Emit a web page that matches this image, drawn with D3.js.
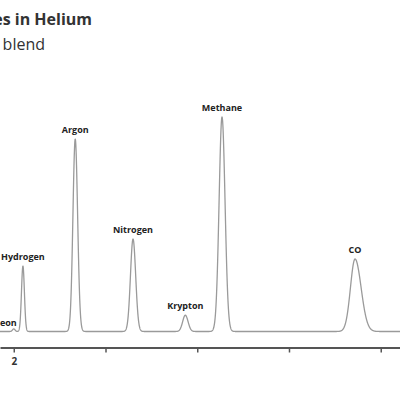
<!DOCTYPE html>
<html>
<head>
<meta charset="utf-8">
<script src="https://cdn.jsdelivr.net/npm/d3@7"></script>
<style>
  html, body { margin: 0; padding: 0; background: #fff; }
  svg { display: block; }
</style>
</head>
<body>
<script>
// Chromatogram: permanent and noble gases in helium carrier.
const peakNames   = ["Neon", "Hydrogen", "Argon", "Nitrogen", "Krypton", "Methane", "CO"];
const retention   = [2.00, 2.10, 2.67, 3.30, 3.87, 4.27, 5.72];   // minutes
const peakHeight  = [1.2, 30.5, 89.7, 43.1, 7.6, 100, 33.8];      // relative response
const widthFront  = [0.014, 0.016, 0.025, 0.028, 0.029, 0.032, 0.050]; // sigma, leading side (min)
const widthTail   = [0.014, 0.016, 0.026, 0.029, 0.030, 0.033, 0.066]; // sigma, trailing side (min)
const tickValues  = [2, 3, 4, 5, 6];
const tickLabels  = ["2", "", "", "", ""];

const W = 400, H = 400;
const svg = d3.select("body").append("svg").attr("width", W).attr("height", H);

const x = d3.scaleLinear().domain([1.85, 6.21]).range([0, W]);
const y = d3.scaleLinear().domain([0, 100]).range([331.5, 117]);

// Detector signal as the sum of the (slightly asymmetric) peaks
function signal(t) {
  let s = 0;
  for (let i = 0; i < retention.length; i++) {
    const d = t - retention[i];
    const sg = d < 0 ? widthFront[i] : widthTail[i];
    s += peakHeight[i] * Math.exp(-0.5 * (d / sg) * (d / sg));
  }
  return s;
}
const times = d3.range(x.domain()[0], x.domain()[1] + 0.001, 0.001);
const trace = times.map(t => ({ t, v: signal(t) }));

svg.append("path")
  .datum(trace)
  .attr("fill", "none")
  .attr("stroke", "#9a9a9a")
  .attr("stroke-width", 1.3)
  .attr("stroke-linejoin", "round")
  .attr("d", d3.line().x(d => x(d.t)).y(d => y(d.v)));

// Peak labels
const labels = svg.append("g")
  .attr("font-family", "'Open Sans', sans-serif")
  .attr("font-weight", "bold")
  .attr("font-size", 9)
  .attr("fill", "#222");
peakNames.forEach((name, i) => {
  const small = peakHeight[i] < 3;
  labels.append("text")
    .attr("x", small ? x(retention[i]) + 3 : x(retention[i]))
    .attr("y", small ? y(peakHeight[i]) - 3 : y(peakHeight[i]) - 6)
    .attr("text-anchor", small ? "end" : "middle")
    .text(name);
});

// Time axis
const axis = svg.append("g")
  .attr("transform", "translate(0,347.5)")
  .call(d3.axisBottom(x)
    .tickValues(tickValues)
    .tickFormat((d, i) => tickLabels[i])
    .tickSize(5)
    .tickSizeOuter(0));
axis.select(".domain").attr("stroke", "#555").attr("stroke-width", 2);
axis.selectAll(".tick line").attr("stroke", "#555").attr("stroke-width", 1.5);
axis.selectAll(".tick text")
  .attr("font-family", "'Open Sans', sans-serif")
  .attr("font-weight", "bold")
  .attr("font-size", 10)
  .attr("fill", "#333")
  .attr("dy", "0.9em");

// Title and subtitle
svg.append("text")
  .attr("x", 92).attr("y", 25)
  .attr("text-anchor", "end")
  .attr("font-family", "'Open Sans', sans-serif")
  .attr("font-weight", "bold")
  .attr("font-size", 16)
  .attr("fill", "#333")
  .text("Permanent Gases in Helium");
svg.append("text")
  .attr("x", 45).attr("y", 50)
  .attr("text-anchor", "end")
  .attr("font-family", "'Open Sans', sans-serif")
  .attr("font-size", 16)
  .attr("fill", "#333")
  .text("Calibration gas blend");
</script>
</body>
</html>
